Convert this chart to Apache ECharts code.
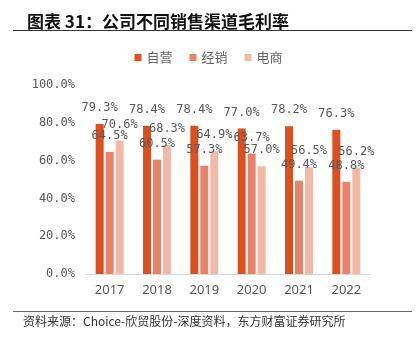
<!DOCTYPE html>
<html><head><meta charset="utf-8">
<script src="https://cdn.jsdelivr.net/npm/echarts@6/dist/echarts.min.js"></script>
<style>html,body{margin:0;padding:0;background:#fff}#c{width:417px;height:337px}</style>
</head><body><div id="c"></div>
<script>
const categories = ['2017','2018','2019','2020','2021','2022'];
const seriesNames = ['自营','经销','电商'];
const selfOperated = [79.3, 78.4, 78.4, 77.0, 78.2, 76.3];
const distribution = [64.5, 60.5, 57.3, 63.7, 49.4, 48.8];
const ecommerce = [70.6, 68.3, 64.9, 57.0, 56.5, 56.2];
const yTicks = [0, 20, 40, 60, 80, 100];

const colors = ['#DC4F1E', '#E8836A', '#F2B9A6'];
const mono = 'DejaVu Sans Mono';
const chart = echarts.init(document.getElementById('c'), null, {renderer:'canvas'});
const mk = (name, data, i) => ({
  name, type:'bar', data, barWidth:8, barGap:'25%',
  itemStyle:{color:colors[i]},
  label:{show:true, position:'top', distance:10, color:'#595959', fontFamily:mono, fontSize:12,
    formatter:p=>p.value.toFixed(1)+'%'}
});
chart.setOption({
  animation:false,
  textStyle:{fontFamily:mono},
  title:{text:'图表 31：公司不同销售渠道毛利率', left:22, top:8,
    textStyle:{fontSize:17, fontWeight:'bold', color:'#111', fontFamily:'Noto Sans CJK SC'}},
  legend:{data:seriesNames, top:46, left:'center', itemWidth:7, itemHeight:7, itemGap:17, icon:'rect',
    textStyle:{fontSize:13, color:'#666', fontFamily:'Noto Sans CJK SC'}},
  grid:{left:86, right:47, top:85, bottom:63},
  xAxis:{type:'category', data:categories,
    axisLine:{lineStyle:{color:'#D9D9D9'}}, axisTick:{show:false},
    axisLabel:{color:'#595959', fontSize:13, margin:10, fontFamily:'Noto Sans'}},
  yAxis:{type:'value', min:yTicks[0], max:yTicks[yTicks.length-1], interval:20,
    splitLine:{show:false}, axisLine:{show:false}, axisTick:{show:false},
    axisLabel:{color:'#595959', fontSize:12, margin:11, fontFamily:mono, formatter:v=>v.toFixed(1)+'%'}},
  series:[mk(seriesNames[0], selfOperated, 0), mk(seriesNames[1], distribution, 1), mk(seriesNames[2], ecommerce, 2)],
  graphic:[
    {type:'line', shape:{x1:13,y1:30.5,x2:412,y2:30.5}, style:{stroke:'#333', lineWidth:1}},
    {type:'line', shape:{x1:13,y1:311.5,x2:412,y2:311.5}, style:{stroke:'#666', lineWidth:1}},
    {type:'text', left:23, top:315, style:{text:'资料来源：Choice-欣贸股份-深度资料，东方财富证券研究所', fontSize:12, fill:'#333', fontFamily:'Noto Sans CJK SC'}}
  ]
});
</script></body></html>
